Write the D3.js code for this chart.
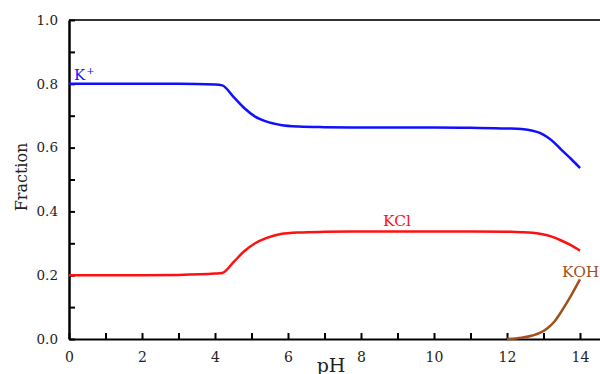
<!DOCTYPE html>
<html>
<head>
<meta charset="utf-8">
<script src="https://cdn.jsdelivr.net/npm/d3@7"></script>
<style>
  body { margin: 0; background: #fff; }
  svg { display: block; }
  text { font-family: "DejaVu Serif", "Liberation Serif", serif; }
</style>
</head>
<body>
<div id="chart"></div>
<script>
// pH grid shared by K+ and KCl
const phValues = [0, 1, 2, 3, 4, 4.2, 4.5, 4.8, 5.1, 5.4, 5.8, 6.3, 7, 8, 9, 10, 11, 12, 12.4, 12.7, 12.9, 13.1, 13.3, 13.5, 13.75, 14];
const kPlus = [0.8, 0.8, 0.8, 0.8, 0.798, 0.795, 0.76, 0.724, 0.697, 0.682, 0.671, 0.666, 0.664, 0.663, 0.663, 0.663, 0.662, 0.660, 0.658, 0.653, 0.646, 0.633, 0.615, 0.592, 0.565, 0.536];
const kCl = [0.2, 0.2, 0.2, 0.201, 0.205, 0.207, 0.24, 0.275, 0.30, 0.316, 0.329, 0.334, 0.336, 0.337, 0.337, 0.337, 0.337, 0.336, 0.335, 0.333, 0.33, 0.325, 0.318, 0.308, 0.294, 0.277];
const kohPh = [12, 12.4, 12.7, 12.9, 13.1, 13.3, 13.5, 13.75, 14];
const kOH = [0, 0.004, 0.011, 0.019, 0.033, 0.055, 0.088, 0.135, 0.187];

const xMajor = [0, 2, 4, 6, 8, 10, 12, 14];
const xMinor = [1, 3, 5, 7, 9, 11, 13];
const yMajor = [0, 0.2, 0.4, 0.6, 0.8, 1.0];
const yMinor = [0.1, 0.3, 0.5, 0.7, 0.9];

const width = 600, height = 374;
const plotLeft = 69, plotRight = 600, plotTop = 20, plotBottom = 339;

const svg = d3.select("#chart").append("svg")
  .attr("width", width).attr("height", height);

const x = d3.scaleLinear().domain([0, 14.548]).range([plotLeft, plotRight]);
const y = d3.scaleLinear().domain([0, 1]).range([plotBottom, plotTop]);

// top frame line
svg.append("line")
  .attr("x1", plotLeft).attr("x2", plotRight)
  .attr("y1", plotTop).attr("y2", plotTop)
  .attr("stroke", "#333").attr("stroke-width", 2);

// y axis
const yAxis = svg.append("g")
  .attr("transform", `translate(${plotLeft},0)`)
  .call(d3.axisLeft(y).tickValues(yMajor).tickFormat(d3.format(".1f"))
    .tickSize(-6).tickSizeOuter(0).tickPadding(11));
yAxis.select(".domain").attr("stroke", "#000").attr("stroke-width", 2.5);
yAxis.selectAll(".tick line").attr("stroke", "#000").attr("stroke-width", 2);
yAxis.selectAll("text").attr("font-size", 13.5).attr("fill", "#222");

const yMinorAxis = svg.append("g")
  .attr("transform", `translate(${plotLeft},0)`)
  .call(d3.axisLeft(y).tickValues(yMinor).tickFormat("").tickSize(-6).tickSizeOuter(0));
yMinorAxis.select(".domain").remove();
yMinorAxis.selectAll(".tick line").attr("stroke", "#000").attr("stroke-width", 2);

// x axis
const xAxis = svg.append("g")
  .attr("transform", `translate(0,${plotBottom})`)
  .call(d3.axisBottom(x).tickValues(xMajor).tickFormat(d3.format("d"))
    .tickSize(-6).tickSizeOuter(0).tickPadding(13));
xAxis.select(".domain").attr("stroke", "#000").attr("stroke-width", 2);
xAxis.selectAll(".tick line").attr("stroke", "#000").attr("stroke-width", 2);
xAxis.selectAll("text").attr("font-size", 14).attr("fill", "#222");

const xMinorAxis = svg.append("g")
  .attr("transform", `translate(0,${plotBottom})`)
  .call(d3.axisBottom(x).tickValues(xMinor).tickFormat("").tickSize(-6).tickSizeOuter(0));
xMinorAxis.select(".domain").remove();
xMinorAxis.selectAll(".tick line").attr("stroke", "#000").attr("stroke-width", 2);

// axis titles
svg.append("text")
  .attr("transform", "translate(27,177) rotate(-90)")
  .attr("text-anchor", "middle")
  .attr("font-size", 16).attr("fill", "#222")
  .text("Fraction");

svg.append("text")
  .attr("x", 331).attr("y", 372)
  .attr("text-anchor", "middle")
  .attr("font-size", 19).attr("fill", "#222")
  .text("pH");

// curves
const line = d3.line()
  .x(d => x(d[0]))
  .y(d => y(d[1]))
  .curve(d3.curveMonotoneX);

const series = [
  { ph: phValues, values: kPlus, color: "#1010ff" },
  { ph: phValues, values: kCl, color: "#ff1010" },
  { ph: kohPh, values: kOH, color: "#a0501e" }
];

svg.selectAll(".curve")
  .data(series)
  .enter()
  .append("path")
  .attr("class", "curve")
  .attr("fill", "none")
  .attr("stroke", d => d.color)
  .attr("stroke-width", 2.5)
  .attr("d", d => line(d.ph.map((p, i) => [p, d.values[i]])));

// labels
const kLabel = svg.append("text")
  .attr("x", 74).attr("y", 80)
  .attr("font-size", 15).attr("fill", "#1010ff");
kLabel.append("tspan").text("K");
kLabel.append("tspan").attr("font-size", 10).attr("dy", -6).attr("dx", 1).text("+");

svg.append("text")
  .attr("x", 383).attr("y", 226)
  .attr("font-size", 15.5).attr("fill", "#ff1010")
  .text("KCl");

svg.append("text")
  .attr("x", 562).attr("y", 277)
  .attr("font-size", 15.5).attr("fill", "#a0501e")
  .text("KOH");
</script>
</body>
</html>
